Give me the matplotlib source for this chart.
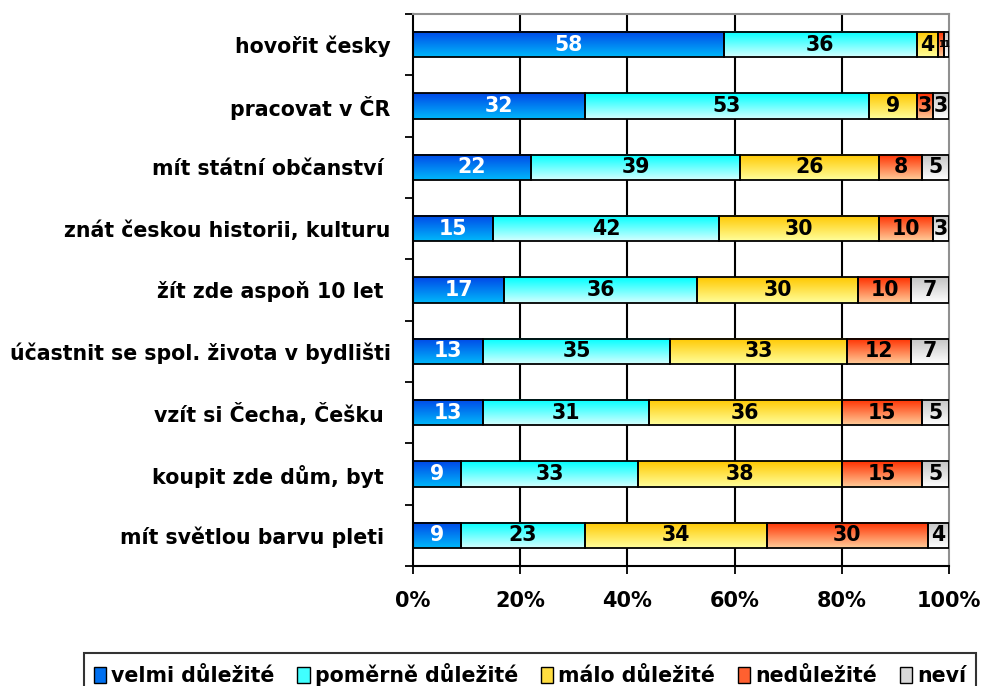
import matplotlib.pyplot as plt
import matplotlib.patches as mpatches
import numpy as np

categories = ['hovořit česky', 'pracovat v ČR', 'mít státní občanství ',
              'znát českou historii, kulturu', 'žít zde aspoň 10 let ',
              'účastnit se spol. života v bydlišti', 'vzít si Čecha, Češku ',
              'koupit zde dům, byt ', 'mít světlou barvu pleti ']
series = ['velmi důležité', 'poměrně důležité', 'málo důležité', 'nedůležité', 'neví']
velmi = [58, 32, 22, 15, 17, 13, 13, 9, 9]
pomerne = [36, 53, 39, 42, 36, 35, 31, 33, 23]
malo = [4, 9, 26, 30, 30, 33, 36, 38, 34]
nedulezite = [1, 3, 8, 10, 10, 12, 15, 15, 30]
nevi = [1, 3, 5, 3, 7, 7, 5, 5, 4]
xticks = [0, 20, 40, 60, 80, 100]
xticklabels = ['0%', '20%', '40%', '60%', '80%', '100%']

# gradient top -> bottom for each series
grads = [('#0048e8', '#00b8fa'), ('#00ffff', '#d4ffff'), ('#ffc800', '#ffff9c'),
         ('#ff3000', '#ffcc99'), ('#c4c4c4', '#ffffff')]
legend_colors = ['#0070f0', '#40ffff', '#ffdd40', '#ff6030', '#d8d8d8']
label_colors = ['white', 'black', 'black', 'black', 'black']
fs = 14.8

def grad_img(c1, c2, n=64):
    a = np.array(plt.matplotlib.colors.to_rgb(c1))
    b = np.array(plt.matplotlib.colors.to_rgb(c2))
    t = np.linspace(0, 1, n)[:, None]
    return (a * (1 - t) + b * t)[:, None, :]

fig = plt.figure(figsize=(9.87, 6.86), dpi=100)
ax = fig.add_axes([413 / 987, 1 - 566 / 686, 536 / 987, 552 / 686])

y = np.arange(len(categories))[::-1]
left = np.zeros(len(categories))
data = [velmi, pomerne, malo, nedulezite, nevi]
for k, vals in enumerate(data):
    vals = np.array(vals, dtype=float)
    bars = ax.barh(y, vals, left=left, height=0.41, color='none',
                   edgecolor='black', linewidth=1.3, zorder=3)
    img = grad_img(*grads[k])
    for b in bars:
        x0, y0, w, h = b.get_x(), b.get_y(), b.get_width(), b.get_height()
        ax.imshow(img, extent=[x0, x0 + w, y0, y0 + h], aspect='auto',
                  zorder=2, interpolation='bilinear')
    for b, v in zip(bars, vals):
        size = fs if v >= 2 else 6
        ax.text(b.get_x() + b.get_width() / 2, b.get_y() + b.get_height() / 2,
                '%d' % v, ha='center', va='center', fontsize=size,
                fontweight='bold', color=label_colors[k], zorder=4)
    left += vals

ax.set_xlim(0, 100)
ax.set_ylim(-0.5, len(categories) - 0.5)
ax.set_xticks(xticks)
ax.set_xticklabels(xticklabels, fontsize=15, fontweight='bold')
ax.set_yticks(y)
ax.set_yticklabels(categories, fontsize=fs, fontweight='bold')
ax.set_yticks(np.arange(-0.5, len(categories), 1), minor=True)
ax.tick_params(axis='y', which='major', length=0, pad=16)
ax.tick_params(axis='y', which='minor', length=6, width=1.3)
ax.tick_params(axis='x', length=6, width=1.3, pad=12)
for xv in xticks[1:-1]:
    ax.axvline(xv, color='black', linewidth=1.5, zorder=1)
for s in ['left', 'bottom']:
    ax.spines[s].set_linewidth(1.5)
for s in ['top', 'right']:
    ax.spines[s].set_color('#909090')
    ax.spines[s].set_linewidth(1.5)

handles = [mpatches.Patch(facecolor=legend_colors[k], edgecolor='black', linewidth=1)
           for k in range(len(series))]
leg = fig.legend(handles, series, loc='lower center', ncol=5,
                 bbox_to_anchor=(0.537, -0.03), frameon=True, fancybox=False,
                 edgecolor='black', prop={'weight': 'bold', 'size': fs},
                 handlelength=0.6, handleheight=0.8, handletextpad=0.25,
                 columnspacing=1.1, borderpad=0.5)
leg.get_frame().set_linewidth(1.5)

fig.savefig('out.png', dpi=100)
